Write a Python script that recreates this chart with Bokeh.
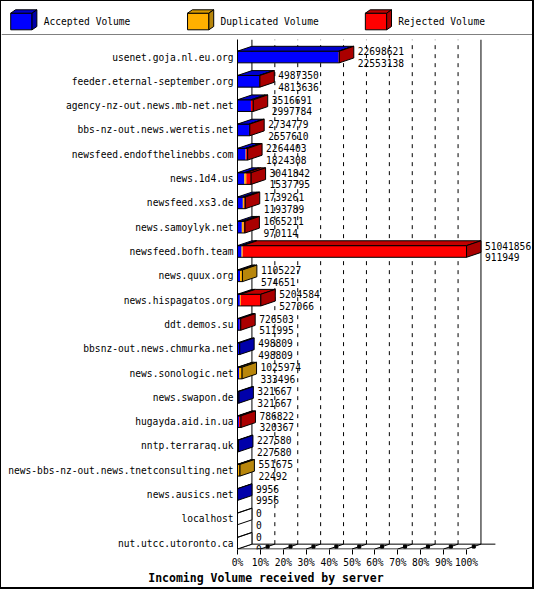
import numpy as np
from bokeh.plotting import figure
from bokeh.layouts import column
from bokeh.models import Range1d, FixedTicker, PrintfTickFormatter
from bokeh.core.properties import value
from bokeh.embed import file_html
from bokeh.resources import INLINE

# incoming volume per server (bytes)
servers = ["usenet.goja.nl.eu.org", "feeder.eternal-september.org",
           "agency-nz-out.news.mb-net.net", "bbs-nz-out.news.weretis.net",
           "newsfeed.endofthelinebbs.com", "news.1d4.us", "newsfeed.xs3.de",
           "news.samoylyk.net", "newsfeed.bofh.team", "news.quux.org",
           "news.hispagatos.org", "ddt.demos.su", "bbsnz-out.news.chmurka.net",
           "news.sonologic.net", "news.swapon.de", "hugayda.aid.in.ua",
           "nntp.terraraq.uk", "news-bbs-nz-out.news.tnetconsulting.net",
           "news.ausics.net", "localhost", "nut.utcc.utoronto.ca"]
total_volume = [22698621, 4987350, 3516691, 2734779, 2264403, 3041842, 1739261,
                1665211, 51041856, 1105227, 5204584, 726503, 498809, 1025974,
                321667, 786822, 227580, 551675, 9956, 0, 0]
accepted_volume = [22553138, 4813636, 2997784, 2557610, 1824308, 1537795, 1193789,
                   970114, 911949, 574651, 527066, 511995, 498809, 333496,
                   321667, 320367, 227580, 22492, 9956, 0, 0]
# split of the rest
duplicated_volume = [0, 0, 0, 0, 95000, 420000, 310000, 430000, 260000, 530576,
                     210000, 0, 0, 692478, 0, 0, 0, 529183, 0, 0, 0]
rejected_volume = [145483, 173714, 518907, 177169, 345095, 1084047, 235472,
                   265097, 49869907, 0, 4467518, 214508, 0, 0, 0, 466455, 0,
                   0, 0, 0, 0]

legend_labels = ["Accepted Volume", "Duplicated Volume", "Rejected Volume"]
front_colors = ["#0000ff", "#ffb000", "#ff0000"]
top_colors = ["#0000cc", "#d89a00", "#c00000"]
side_colors = ["#0000aa", "#b8860b", "#aa0000"]
pct_ticks = [0, 10, 20, 30, 40, 50, 60, 70, 80, 90, 100]

MONO = "DejaVu Sans Mono"
DX = 6.3     # 3d depth along x (percent units)
DY = 0.2     # 3d depth along y (row units)
HALF = 0.24  # half height of a bar front (row units)
W = 531

n = len(servers)
max_total = max(total_volume)
ys = np.arange(n)[::-1].astype(float)

# ---------------- legend strip ----------------
leg = figure(width=W, height=34, x_range=Range1d(0, 548), y_range=Range1d(34, 0),
             toolbar_location=None, output_backend="svg", min_border=0,
             frame_align=False)
leg.axis.visible = False
leg.grid.grid_line_color = None
leg.outline_line_color = None
leg_x = [9.5, 192, 375.5]
for i, lab in enumerate(legend_labels):
    x0 = leg_x[i]
    leg.quad(left=x0, right=x0 + 22, top=11.7, bottom=28.3,
             fill_color=front_colors[i], line_color="black")
    leg.patch([x0, x0 + 22, x0 + 27, x0 + 5], [11.7, 11.7, 8.3, 8.3],
              fill_color=top_colors[i], line_color="black")
    leg.patch([x0 + 22, x0 + 27, x0 + 27, x0 + 22], [11.7, 8.3, 25, 28.3],
              fill_color=side_colors[i], line_color="black")
    leg.text(x=[x0 + 34], y=[20], text=[lab], text_baseline="middle",
             text_font=value(MONO), text_font_size="9.6px", text_color="black")
leg.segment(x0=[0], y0=[33.5], x1=[548], y1=[33.5], line_color="black", line_width=1)

# ---------------- main 3d bar chart ----------------
p = figure(width=W, height=535, x_range=Range1d(0, 128.8), y_range=Range1d(-0.26, 20.72),
           toolbar_location=None, output_backend="svg", frame_align=False,
           min_border_left=236, min_border_right=0, min_border_top=4, min_border_bottom=18)
p.grid.grid_line_color = None
p.outline_line_color = None
p.background_fill_color = "white"

# back wall and floor
back_floor = -HALF + DY
p.segment(x0=[DX + t for t in pct_ticks[1:-1]], y0=back_floor,
          x1=[DX + t for t in pct_ticks[1:-1]], y1=20.72,
          line_color="black", line_dash="4 5", line_width=1)
p.segment(x0=[DX, DX + 100], y0=back_floor, x1=[DX, DX + 100], y1=20.72,
          line_color="black", line_width=1)
p.segment(x0=[DX, 0], y0=[back_floor, -HALF], x1=[112.6, 100], y1=[back_floor, -HALF],
          line_color="black", line_width=1)
p.segment(x0=pct_ticks, y0=-HALF, x1=[t + DX for t in pct_ticks], y1=back_floor,
          line_color="black", line_width=1)
p.scatter(x=[t + DX / 2 for t in pct_ticks[1:]], y=(-HALF + back_floor) / 2,
          marker="square", size=3, color="black")

# bars
stack = [np.array(accepted_volume), np.array(duplicated_volume), np.array(rejected_volume)]
f_l, f_r, f_b, f_t, f_c = [], [], [], [], []
top_xs, top_ys, top_c = [], [], []
for k in range(3):
    start = sum(stack[:k]) / max_total * 100 if k else np.zeros(n)
    end = start + stack[k] / max_total * 100
    for i in range(n):
        if stack[k][i] <= 0:
            continue
        y = ys[i]
        f_l.append(start[i]); f_r.append(end[i])
        f_b.append(y - HALF); f_t.append(y + HALF); f_c.append(front_colors[k])
        top_xs.append([start[i], end[i], end[i] + DX, start[i] + DX])
        top_ys.append([y + HALF, y + HALF, y + HALF + DY, y + HALF + DY])
        top_c.append(top_colors[k])
p.quad(left=f_l, right=f_r, bottom=f_b, top=f_t, fill_color=f_c, line_color=None)

tot = np.array(total_volume) / max_total * 100
p.quad(left=0, right=tot, bottom=ys - HALF, top=ys + HALF,
       fill_color=None, line_color="black", line_width=1)
p.patches(top_xs, top_ys, fill_color=top_c, line_color="black", line_width=1)

side_xs, side_ys, side_c = [], [], []
for i in range(n):
    y = ys[i]
    colour = "white"
    for k in range(3):
        if stack[k][i] > 0:
            colour = side_colors[k]
    side_xs.append([tot[i], tot[i] + DX, tot[i] + DX, tot[i]])
    side_ys.append([y + HALF, y + HALF + DY, y - HALF + DY, y - HALF])
    side_c.append(colour)
p.patches(side_xs, side_ys, fill_color=side_c, line_color="black", line_width=1)
# empty boxes still show their top edge
p.segment(x0=0, y0=ys + HALF, x1=DX, y1=ys + HALF + DY, line_color="black",
          line_width=1, alpha=np.where(tot == 0, 1.0, 0.0))

# value labels: total on top, accepted below
p.text(x=tot + DX, y=ys + HALF, text=[str(v) for v in total_volume], x_offset=4,
       text_baseline="middle", text_font=value(MONO), text_font_size="9.6px",
       text_color="black")
p.text(x=tot + DX, y=ys - HALF, text=[str(v) for v in accepted_volume], x_offset=4,
       text_baseline="middle", text_font=value(MONO), text_font_size="9.6px",
       text_color="black")

# axes
p.yaxis.ticker = FixedTicker(ticks=list(ys))
p.yaxis.major_label_overrides = {int(ys[i]): servers[i] for i in range(n)}
p.yaxis.major_tick_in = 0
p.yaxis.major_tick_out = 0
p.yaxis.minor_tick_line_color = None
p.yaxis.axis_line_color = "black"
p.yaxis.major_label_standoff = 4
p.yaxis.major_label_text_font = MONO
p.yaxis.major_label_text_font_size = "9.6px"
p.yaxis.major_label_text_color = "black"

p.xaxis.ticker = FixedTicker(ticks=pct_ticks)
p.xaxis.formatter = PrintfTickFormatter(format="%d%%")
p.xaxis.axis_line_color = None
p.xaxis.major_tick_in = 0
p.xaxis.major_tick_out = 5
p.xaxis.major_tick_line_color = "black"
p.xaxis.minor_tick_line_color = None
p.xaxis.major_label_standoff = 2
p.xaxis.major_label_text_font = MONO
p.xaxis.major_label_text_font_size = "9.6px"
p.xaxis.major_label_text_color = "black"

# ---------------- axis title strip ----------------
foot = figure(width=W, height=17, x_range=Range1d(0, 1), y_range=Range1d(0, 1),
              toolbar_location=None, output_backend="svg", min_border=0,
              frame_align=False)
foot.axis.visible = False
foot.grid.grid_line_color = None
foot.outline_line_color = None
foot.text(x=[0.498], y=[0.55], text=["Incoming Volume received by server"],
          text_align="center", text_baseline="middle", text_font=value(MONO),
          text_font_size="11.5px", text_font_style="bold", text_color="black")

layout = column(leg, p, foot, styles={"border-style": "solid", "border-color": "black",
                                      "border-width": "1px 2px 2px 1px"})

open("out.html", "w").write(file_html(layout, INLINE))
